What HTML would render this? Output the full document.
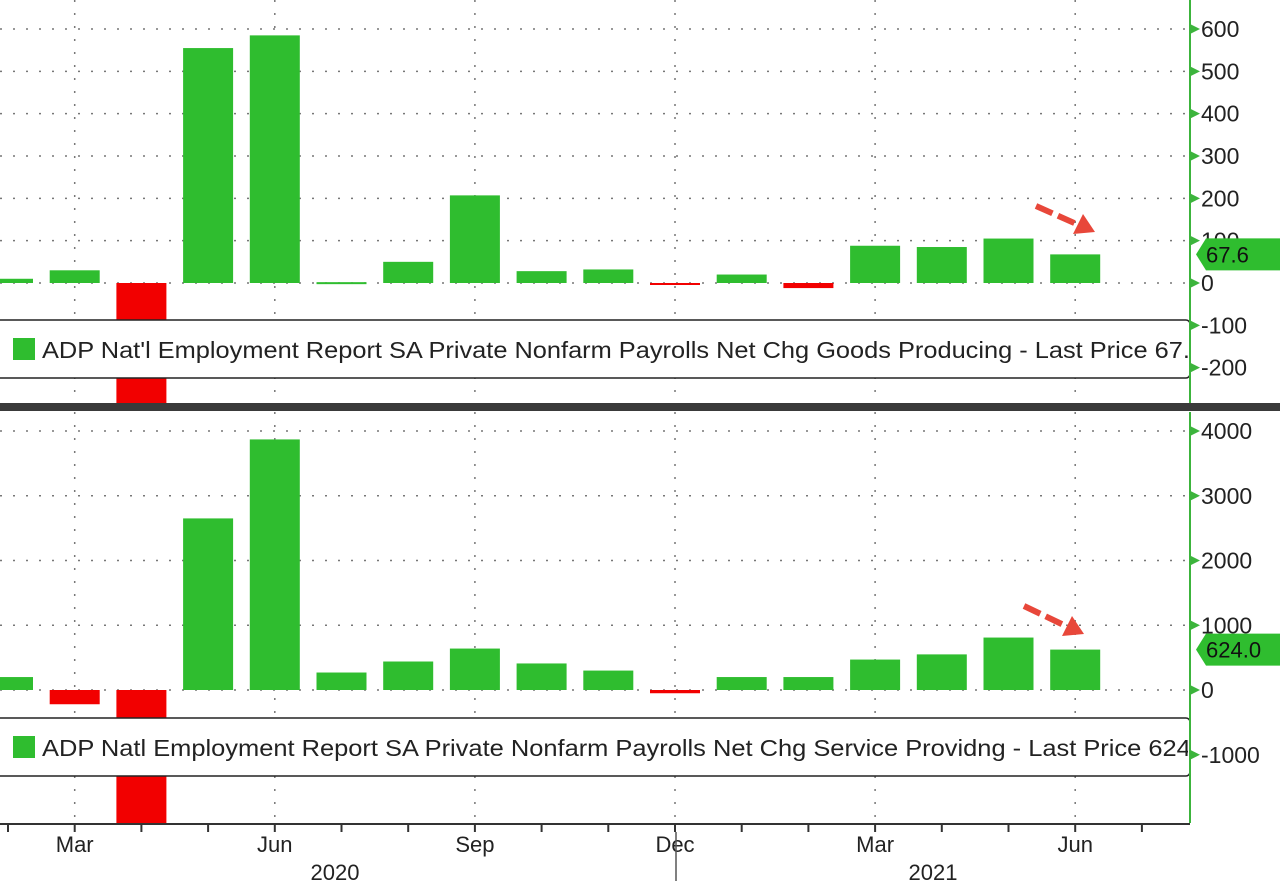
<!DOCTYPE html>
<html><head><meta charset="utf-8"><style>
body{margin:0;background:#fff;width:1280px;height:881px;overflow:hidden;font-family:"Liberation Sans","DejaVu Sans",sans-serif}
svg{display:block}
</style></head><body>
<svg id="c" width="1280" height="881">
<defs><clipPath id="lc"><rect x="0" y="0" width="1188" height="881"/></clipPath></defs>
</svg>
<script>
const months=["Feb","Mar","Apr","May","Jun","Jul","Aug","Sep","Oct","Nov","Dec","Jan","Feb","Mar","Apr","May","Jun"];
const goodsValues=[10,30,-290,555,585,2,50,207,28,32,-2,20,-12,88,85,105,67.6];
const servicesValues=[200,-220,-2100,2650,3870,270,440,640,410,300,-50,200,200,470,550,810,624];
const goodsTicks=[-200,-100,0,100,200,300,400,500,600];
const servicesTicks=[-1000,0,1000,2000,3000,4000];
const xLabels=[{i:1,t:"Mar"},{i:4,t:"Jun"},{i:7,t:"Sep"},{i:10,t:"Dec"},{i:13,t:"Mar"},{i:16,t:"Jun"}];
const yearLabels=[{x:335,t:"2020"},{x:933,t:"2021"}];

const NS="http://www.w3.org/2000/svg";
const svg=document.getElementById('c');
function mk(tag,attrs,parent){const e=document.createElementNS(NS,tag);for(const k in attrs)e.setAttribute(k,attrs[k]);(parent||svg).appendChild(e);return e;}
const xOf=i=>8+i*66.7;
const AX=1190;
function yTop(v){return 283-v*0.4233;}
function yBot(v){return 690-v*0.06475;}

function panel(name,top,bottom,ticks,yf,vals,legendY,legendText,last,lastLabel,tl){
  const g=mk('g',{});
  
  
  ticks.forEach(t=>{const y=yf(t);if(y<top||y>bottom)return;
    const l=mk('line',{x1:0,x2:AX,y1:y,y2:y,stroke:'#777','stroke-width':1.5,'stroke-dasharray':'2 11'},g);
    });
  xLabels.forEach(o=>{const l=mk('line',{x1:xOf(o.i),x2:xOf(o.i),y1:top,y2:bottom,stroke:'#777','stroke-width':1.5,'stroke-dasharray':'2 11'},g);
    });
  const z=yf(0);
  vals.forEach((v,i)=>{let y=yf(v);y=Math.max(top,Math.min(bottom,y));
    const b=mk('rect',{x:xOf(i)-25,y:Math.min(y,z),width:50,height:Math.max(2,Math.abs(y-z)),fill:v>=0?'#2fbd2f':'#f20000'},g);
    });
  const lg=mk('g',{},g);
  mk('rect',{x:-5,y:legendY,width:AX+5,height:58,rx:4,fill:'#fff',stroke:'#222','stroke-width':1.5},lg);
  mk('rect',{x:13,y:legendY+18,width:22,height:22,fill:'#2fbd2f'},lg);
  const tx=mk('text',{x:42,y:legendY+38,'font-size':23,fill:'#222','clip-path':'url(#lc)',textLength:tl,lengthAdjust:'spacingAndGlyphs'},lg);tx.textContent=legendText;
  mk('rect',{x:AX,y:top,width:90,height:bottom-top,fill:'#fff'},g);
  mk('line',{x1:AX,x2:AX,y1:top,y2:bottom,stroke:'#3cb43c','stroke-width':2},g);
  ticks.forEach(t=>{const y=yf(t);if(y<top+5||y>bottom-5)return;
    mk('path',{d:`M${AX} ${y-5} L${AX+10} ${y} L${AX} ${y+5}Z`,fill:'#3cb43c'},g);
    const s=mk('text',{x:AX+11,y:y+8,'font-size':23,fill:'#222'},g);s.textContent=(t<0?'-':'')+Math.abs(t);
    });
  const ly=yf(last);
  const tg=mk('g',{},g);
  mk('path',{d:`M${AX+6} ${ly} L${AX+16} ${ly-16} L1280 ${ly-16} L1280 ${ly+16} L${AX+16} ${ly+16}Z`,fill:'#2fbd2f'},tg);
  const lt=mk('text',{x:AX+16,y:ly+8,'font-size':22,fill:'#111'},tg);lt.textContent=lastLabel;
}
panel('goods',0,403,goodsTicks,yTop,goodsValues,320,"ADP Nat'l Employment Report SA Private Nonfarm Payrolls Net Chg Goods Producing - Last Price 67.6",67.6,"67.6",1162);
panel('services',412,823,servicesTicks,yBot,servicesValues,718,"ADP Natl Employment Report SA Private Nonfarm Payrolls Net Chg Service Providng - Last Price 624.0",624,"624.0",1170);
const dv=mk('rect',{x:0,y:403,width:1280,height:8,fill:'#3a3a3a'});
const xa=mk('line',{x1:0,x2:AX,y1:824,y2:824,stroke:'#333','stroke-width':2});
months.forEach((m,i)=>{mk('line',{x1:xOf(i),x2:xOf(i),y1:824,y2:832,stroke:'#333','stroke-width':2});});
mk('line',{x1:xOf(17),x2:xOf(17),y1:824,y2:832,stroke:'#333','stroke-width':2});
xLabels.forEach(o=>{const t=mk('text',{x:xOf(o.i),y:852,'font-size':22,fill:'#222','text-anchor':'middle'});t.textContent=o.t;
  });
yearLabels.forEach(o=>{const t=mk('text',{x:o.x,y:880,'font-size':22,fill:'#222','text-anchor':'middle'});t.textContent=o.t;
  });
mk('line',{x1:676,x2:676,y1:832,y2:881,stroke:'#555','stroke-width':1.5});
function arrow(x1,y1,x2,y2){const g=mk('g',{});
  mk('line',{x1:x1,y1:y1,x2:x2-14,y2:y2-6,stroke:'#e8473a','stroke-width':6,'stroke-dasharray':'18 6'},g);
  mk('path',{d:`M${x2} ${y2} L${x2-22} ${y2+2} L${x2-12} ${y2-18}Z`,fill:'#e8473a'},g);}
arrow(1036,206,1095,232);
arrow(1024,606,1084,634);
</script>
</body></html>
